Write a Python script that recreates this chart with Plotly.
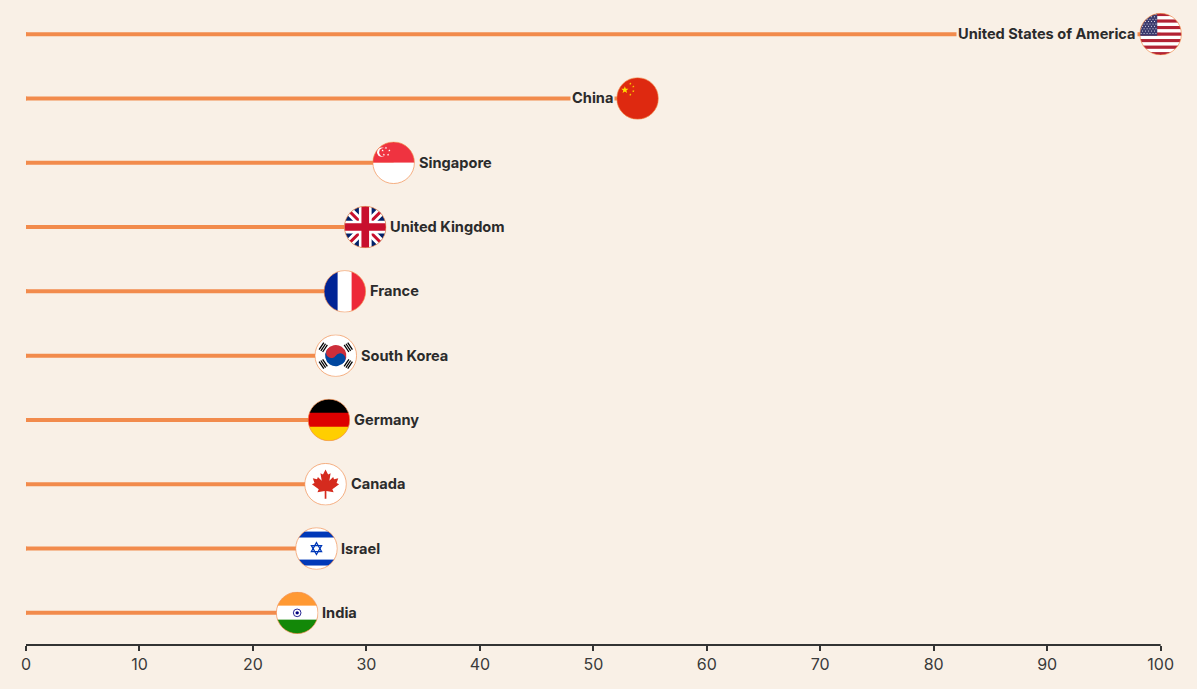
import base64
import math
import plotly.graph_objects as go

# data
countries = ["United States of America", "China", "Singapore", "United Kingdom", "France",
             "South Korea", "Germany", "Canada", "Israel", "India"]
scores = [100, 53.9, 32.4, 29.9, 28.1, 27.3, 26.7, 26.4, 25.6, 23.9]
x_ticks = [0, 10, 20, 30, 40, 50, 60, 70, 80, 90, 100]

BG = "#f9f0e6"
ORANGE = "#f28b4c"
INK = "#2b2b2b"


def star(cx, cy, r, rot=-90):
    pts = []
    for k in range(10):
        rr = r if k % 2 == 0 else r * 0.42
        a = math.radians(rot + k * 36)
        pts.append(f"{cx + rr * math.cos(a):.2f},{cy + rr * math.sin(a):.2f}")
    return " ".join(pts)


def flag_usa():
    s = ""
    h = 100 / 13
    for k in range(13):
        s += f'<rect x="0" y="{k*h:.2f}" width="100" height="{h+0.3:.2f}" fill="{"#b22234" if k % 2 == 0 else "#ffffff"}"/>'
    s += '<rect x="0" y="0" width="42" height="53.8" fill="#3c3b6e"/>'
    for r in range(9):
        for c in range(6 if r % 2 == 0 else 5):
            cx = 4 + c * 7 + (3.5 if r % 2 else 0)
            cy = 3.5 + r * 5.6
            s += f'<circle cx="{cx}" cy="{cy}" r="1.2" fill="#ffffff"/>'
    return s


def flag_china():
    s = '<rect width="100" height="100" fill="#de2910"/>'
    s += f'<polygon points="{star(20, 30, 9)}" fill="#ffde00"/>'
    for cx, cy in [(33, 15), (40, 22), (40, 33), (33, 41)]:
        s += f'<polygon points="{star(cx, cy, 3)}" fill="#ffde00"/>'
    return s


def flag_singapore():
    s = '<rect width="100" height="50" fill="#ef3340"/><rect y="50" width="100" height="50" fill="#ffffff"/>'
    s += '<circle cx="22" cy="25" r="11" fill="#ffffff"/><circle cx="26" cy="25" r="10" fill="#ef3340"/>'
    for cx, cy in [(32, 15), (40, 21), (37, 31), (27, 31), (24, 21)]:
        s += f'<polygon points="{star(cx, cy, 3)}" fill="#ffffff"/>'
    return s


def flag_uk():
    s = '<rect width="100" height="100" fill="#012169"/>'
    s += '<path d="M0,0 L100,100 M100,0 L0,100" stroke="#ffffff" stroke-width="20"/>'
    s += '<path d="M0,0 L100,100 M100,0 L0,100" stroke="#c8102e" stroke-width="7"/>'
    s += '<path d="M50,0 V100 M0,50 H100" stroke="#ffffff" stroke-width="30"/>'
    s += '<path d="M50,0 V100 M0,50 H100" stroke="#c8102e" stroke-width="18"/>'
    return s


def flag_france():
    return ('<rect width="34" height="100" fill="#002395"/>'
            '<rect x="33" width="34" height="100" fill="#ffffff"/>'
            '<rect x="66" width="34" height="100" fill="#ed2939"/>')


def flag_korea():
    s = '<rect width="100" height="100" fill="#ffffff"/>'
    s += '<g transform="rotate(33.7 50 50)">'
    s += '<path d="M25,50 A25,25 0 0 1 75,50 Z" fill="#cd2e3a"/>'
    s += '<path d="M25,50 A25,25 0 0 0 75,50 Z" fill="#0047a0"/>'
    s += '<circle cx="37.5" cy="50" r="12.5" fill="#cd2e3a"/>'
    s += '<circle cx="62.5" cy="50" r="12.5" fill="#0047a0"/></g>'
    for ang in [-146.3, -33.7, 33.7, 146.3]:
        s += f'<g transform="rotate({ang + 90} 50 50)">'
        for k in range(3):
            s += f'<rect x="40" y="{8 + k*5}" width="20" height="3" fill="#000000"/>'
        s += '</g>'
    return s


def flag_germany():
    return ('<rect width="100" height="34" fill="#000000"/>'
            '<rect y="33" width="100" height="34" fill="#dd0000"/>'
            '<rect y="66" width="100" height="34" fill="#ffce00"/>')


def flag_canada():
    leaf = [(50, 15), (44, 27), (38, 24), (41, 42), (32, 33), (30, 38), (20, 36), (24, 47),
            (18, 50), (34, 62), (31, 69), (48, 66), (48, 84), (52, 84), (52, 66), (69, 69),
            (66, 62), (82, 50), (76, 47), (80, 36), (70, 38), (68, 33), (59, 42), (62, 24), (56, 27)]
    pts = " ".join(f"{a},{b}" for a, b in leaf)
    return f'<rect width="100" height="100" fill="#ffffff"/><polygon points="{pts}" fill="#d52b1e"/>'


def flag_israel():
    s = '<rect width="100" height="100" fill="#ffffff"/>'
    s += '<rect y="10" width="100" height="14" fill="#0038b8"/><rect y="76" width="100" height="14" fill="#0038b8"/>'
    s += '<polygon points="50,36 62,57 38,57" fill="none" stroke="#0038b8" stroke-width="3"/>'
    s += '<polygon points="50,64 62,43 38,43" fill="none" stroke="#0038b8" stroke-width="3"/>'
    return s


def flag_india():
    s = ('<rect width="100" height="34" fill="#ff9933"/>'
         '<rect y="33" width="100" height="34" fill="#ffffff"/>'
         '<rect y="66" width="100" height="34" fill="#138808"/>')
    s += '<circle cx="50" cy="50" r="9" fill="none" stroke="#000080" stroke-width="2"/>'
    s += '<circle cx="50" cy="50" r="4" fill="#000080"/>'
    return s


flag_art = {
    "United States of America": flag_usa, "China": flag_china, "Singapore": flag_singapore,
    "United Kingdom": flag_uk, "France": flag_france, "South Korea": flag_korea,
    "Germany": flag_germany, "Canada": flag_canada, "Israel": flag_israel, "India": flag_india,
}


def flag_uri(name):
    svg = ('<svg xmlns="http://www.w3.org/2000/svg" viewBox="0 0 100 100" width="200" height="200">'
           '<defs><clipPath id="c"><circle cx="50" cy="50" r="49"/></clipPath></defs>'
           f'<g clip-path="url(#c)">{flag_art[name]()}</g>'
           f'<circle cx="50" cy="50" r="49" fill="none" stroke="{ORANGE}" stroke-width="1.6"/></svg>')
    return "data:image/svg+xml;base64," + base64.b64encode(svg.encode()).decode()


n = len(countries)
rows = list(range(n - 1, -1, -1))  # top row = first country

fig = go.Figure()

# stems
for name, v, r in zip(countries, scores, rows):
    fig.add_trace(go.Scatter(
        x=[0, v], y=[r, r], mode="lines",
        line=dict(color=ORANGE, width=4),
        hoverinfo="skip", showlegend=False
    ))
# round start caps
fig.add_trace(go.Scatter(
    x=[0] * n, y=rows, mode="markers",
    marker=dict(color=ORANGE, size=4), hoverinfo="skip", showlegend=False
))

images = []
annotations = []
for name, v, r in zip(countries, scores, rows):
    images.append(dict(
        source=flag_uri(name), xref="x", yref="y", x=v, y=r,
        xanchor="center", yanchor="middle", sizex=3.75, sizey=0.66,
        sizing="contain", layer="above"
    ))
    left = v > 50
    annotations.append(dict(
        x=v, y=r, xref="x", yref="y", text=name, showarrow=False,
        xanchor="right" if left else "left", xshift=-23 if left else 23,
        font=dict(family="Inter, Roboto, sans-serif", size=14.6, color=INK, weight=700),
        bgcolor=BG if left else "rgba(0,0,0,0)", borderpad=1
    ))

fig.update_layout(
    width=1197, height=689,
    margin=dict(l=26, r=8, t=2, b=44),
    paper_bgcolor=BG, plot_bgcolor=BG,
    images=images, annotations=annotations,
    showlegend=False,
    xaxis=dict(
        range=[0, 102.5], tickvals=x_ticks, showgrid=False, zeroline=False, showline=False,
        ticks="outside", ticklen=5, tickwidth=2, tickcolor="#333333",
        tickfont=dict(family="Inter, Roboto, sans-serif", size=16, color="#3a3a3a"),
        fixedrange=True
    ),
    yaxis=dict(range=[-0.5, n - 0.5], visible=False, fixedrange=True),
    shapes=[dict(type="line", xref="x", yref="paper", x0=x_ticks[0], x1=x_ticks[-1], y0=0, y1=0,
                 line=dict(color="#333333", width=2), layer="above")],
)

# page body: no margin, same background as the chart
fig.write_html("out.html", config={"displayModeBar": False}, post_script=(
    f"document.body.style.margin='0';document.body.style.background='{BG}';"
))
